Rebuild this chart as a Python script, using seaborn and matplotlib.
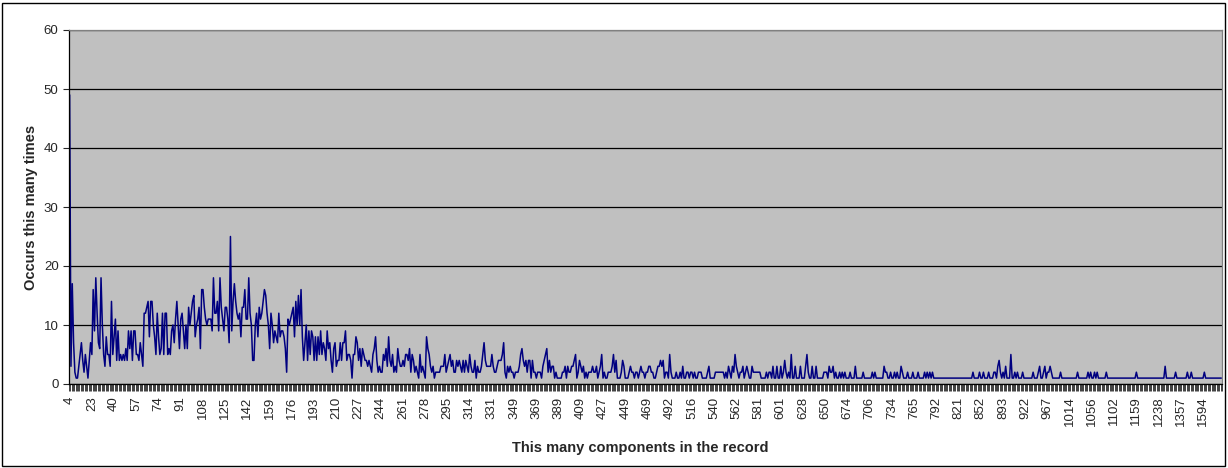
import numpy as np
import pandas as pd
import seaborn as sns
import matplotlib.pyplot as plt

# how often each record size occurs, one value per category on the axis
counts = [
    49, 3, 17, 7, 2, 1, 1, 3, 5, 7, 4, 2, 5, 3, 1, 4, 7, 5, 16,
    9, 18, 12, 7, 6, 18, 10, 5, 3, 8, 5, 5, 3, 14, 5, 8, 11, 4, 9, 4,
    5, 4, 5, 4, 6, 4, 9, 6, 9, 4, 9, 9, 5, 5, 4, 7, 5, 3, 12, 12,
    13, 14, 8, 14, 14, 10, 8, 5, 12, 8, 5, 6, 12, 5, 12, 12, 5, 6, 5,
    9, 10, 7, 11, 14, 10, 6, 11, 12, 9, 6, 10, 6, 13, 10, 12, 14, 15, 8, 10,
    11, 13, 6, 16, 16, 13, 11, 10, 11, 11, 11, 9, 18, 12, 12, 14, 9, 18, 13, 11,
    9, 13, 13, 11, 7, 25, 9, 14, 17, 14, 12, 11, 12, 8, 13, 13, 16, 11, 11, 18,
    12, 10, 4, 4, 10, 12, 8, 13, 11,
    12, 14, 16, 15, 12, 10, 6, 12, 10, 7, 9, 8, 7, 12, 8, 9, 9, 8, 6, 2,
    11, 10, 11, 12, 13, 8, 14, 10, 15, 10, 16, 8, 4, 7, 10, 4, 9, 5, 9, 8,
    4, 8, 4, 8, 5, 9, 5, 7, 6, 4, 9, 6, 7, 4, 2, 6, 7, 3, 4, 4,
    7, 4, 7, 7, 9, 4, 5, 5, 4, 1, 5,
    5, 8, 7, 4, 6, 3, 6, 5, 4, 4, 3, 4, 3, 2, 5, 6, 8, 4, 2, 3,
    2, 2, 5, 4, 6, 3, 8, 4, 3, 5, 2, 3, 2, 6, 4, 3, 3, 4, 3, 5,
    5, 4, 6, 2, 5, 4, 2, 3, 2, 1, 5, 2, 3, 2, 1, 8, 6, 5, 3, 2,
    3, 1, 2, 2, 2, 2, 3, 3, 3, 5, 2, 3, 4, 5, 3, 4, 2, 2, 4, 3,
    4, 3, 2, 4, 2, 4, 3, 2,
    5, 3, 2, 2, 4, 1, 3, 2, 2, 3, 5, 7, 4, 3, 3, 3, 3, 5, 3, 2,
    2, 3, 4, 4, 4, 5, 7, 2, 1, 3, 2, 3, 2, 2, 1, 2, 2, 2, 3, 5,
    6, 4, 3, 4, 2, 4, 4, 1, 4, 2, 2, 1, 2, 2, 2, 1, 3, 4, 5, 6,
    2, 4, 2, 3, 3, 1, 2, 1, 1, 1, 1, 2, 2, 3, 1, 3, 2, 2, 3, 3,
    4, 5, 1, 2, 4, 3, 2, 3,
    1, 2, 1, 2, 2, 2, 3, 2, 2, 3, 1, 2, 3, 5, 1, 2, 1, 1, 2, 2,
    2, 3, 5, 2, 4, 1, 1, 1, 2, 4, 3, 1, 1, 1, 2, 3, 2, 2, 1, 2,
    2, 1, 2, 3, 2, 2, 1, 2, 2, 3, 3, 2, 2, 1, 1, 2, 3, 3, 4, 3,
    4, 1, 2, 2, 1, 5, 2, 1, 1, 1, 2, 1, 1, 2, 1, 3, 1, 1, 2, 2,
    1, 2, 2, 1, 2, 1, 1, 2,
    2, 2, 1, 1, 1, 1, 2, 3, 1, 1, 1, 1, 2, 2, 2, 2, 2, 2, 2, 1,
    2, 1, 3, 2, 1, 3, 2, 5, 3, 2, 1, 2, 2, 3, 1, 2, 3, 2, 1, 1,
    3, 2, 2, 2, 2, 2, 2, 1, 1, 1, 1, 2, 1, 2, 2, 1, 3, 1, 1, 3,
    1, 1, 3, 1, 2, 4, 2, 1, 2, 1, 5, 1, 1, 3, 1, 1, 1, 3, 1, 1,
    1, 3, 5, 2, 1, 1, 3, 1, 1, 3, 1, 1, 1, 1, 1, 2,
    2, 2, 1, 3, 2, 2, 3, 1, 2, 1, 1, 2, 1, 2, 1, 2, 1, 1, 1, 2,
    1, 1, 1, 3, 1, 1, 1, 1, 1, 2, 1, 1, 1, 1, 1, 1, 2, 1, 2, 1,
    1, 1, 1, 1, 1, 3, 2, 2, 1, 1, 2, 1, 1, 2, 1, 2, 1, 1, 3, 2,
    1, 1, 1, 2, 1, 1, 1, 2, 1, 1, 1, 2, 1, 1, 1, 1, 2, 1, 2, 1,
    2, 1, 2, 1, 1, 1, 1, 1, 1, 1, 1, 1, 1, 1, 1, 1,
    1, 1, 1, 1, 1, 1, 1, 1, 1, 1, 1, 1, 1, 1, 1, 1,
    1, 2, 1, 1, 1, 1, 2, 1, 1, 2, 1, 1, 1, 2, 1, 1, 1, 2, 2, 1,
    3, 4, 2, 1, 2, 1, 3, 1, 1, 1, 5, 1, 1, 2, 1, 2, 1, 1, 1, 2,
    1, 1, 1, 1, 1, 1, 1, 2, 1, 1, 1, 2, 3, 1, 1, 2, 3, 1, 2, 2,
    3, 2, 1, 1, 1, 1, 1, 1, 2, 1, 1, 1, 1, 1, 1, 1, 1, 1, 1, 1,
    1, 2, 1, 1, 1, 1, 1,
    1, 1, 2, 1, 2, 1, 1, 2, 1, 2, 1, 1, 1, 1, 1, 1, 2, 1,
    1, 1, 1, 1, 1, 1, 1, 1, 1, 1, 1, 1, 1, 1, 1, 1, 1, 1, 1, 1, 1,
    2,
    1, 1, 1, 1, 1, 1, 1, 1, 1, 1, 1, 1, 1, 1, 1, 1, 1, 1, 1, 1, 1,
    3,
    1, 1, 1, 1, 1, 1, 1,
    2,
    1, 1, 1, 1, 1, 1, 1, 1,
    2, 1, 1, 2, 1,
    1, 1, 1, 1, 1, 1, 1, 1,
    2,
    1, 1, 1, 1, 1, 1, 1, 1, 1, 1, 1, 1, 1,
]

# record sizes written under every 17th category
tick_labels = [4, 23, 40, 57, 74, 91, 108, 125, 142, 159, 176, 193, 210, 227,
               244, 261, 278, 295, 314, 331, 349, 369, 389, 409, 427, 449, 469,
               492, 516, 540, 562, 581, 601, 628, 650, 674, 706, 734, 765, 792,
               821, 852, 893, 922, 967, 1014, 1056, 1102, 1159, 1238, 1357, 1594]
label_step = 17
y_ticks = [0, 10, 20, 30, 40, 50, 60]

sns.set_style('white')
plt.rcParams['font.family'] = ['Liberation Sans', 'DejaVu Sans']

df = pd.DataFrame({'pos': np.arange(len(counts)), 'count': counts})

W, H = 1228, 468
fig = plt.figure(figsize=(W / 100, H / 100), dpi=100)
ax = fig.add_axes([69 / W, (H - 384) / H, 1153 / W, 354 / H])

sns.lineplot(data=df, x='pos', y='count', ax=ax, color='#000080', linewidth=1.1)

ax.set_facecolor('#C0C0C0')
ax.set_xlim(-0.5, len(counts) - 0.5)
ax.set_ylim(0, 60)
ax.set_yticks(y_ticks)
ax.yaxis.grid(True, color='black', linewidth=0.9)
ax.xaxis.grid(False)
ax.set_axisbelow(True)

# labels every 17th category, tick marks between every category
ax.set_xticks([k * label_step for k in range(len(tick_labels))])
ax.set_xticklabels([str(t) for t in tick_labels], rotation=90, fontsize=9.5)
ax.set_xticks(np.arange(-0.5, len(counts)), minor=True)
ax.tick_params(axis='x', which='major', length=0, pad=9)
ax.tick_params(axis='x', which='minor', length=5, width=0.6, color='#202020',
               direction='out', bottom=True)
ax.tick_params(axis='y', length=4, width=0.8, labelsize=9.5, direction='out', left=True)

for side in ['left', 'bottom']:
    ax.spines[side].set_color('black')
    ax.spines[side].set_linewidth(0.9)
for side in ['top', 'right']:
    ax.spines[side].set_color('#808080')
    ax.spines[side].set_linewidth(0.9)

ax.set_xlabel('This many components in the record', fontsize=10.5, fontweight='bold')
ax.set_ylabel('Occurs this many times', fontsize=10.5, fontweight='bold')
ax.xaxis.set_label_coords((640 - 69) / 1153, (384 - 441) / 354)
ax.yaxis.set_label_coords((38 - 69) / 1153, 0.5)

# chart area frame
fig.add_artist(plt.Rectangle((2 / W, 2 / H), (W - 5) / W, (H - 5) / H,
                             transform=fig.transFigure, fill=False,
                             edgecolor='black', linewidth=1))

fig.savefig('out.png', dpi=100)
